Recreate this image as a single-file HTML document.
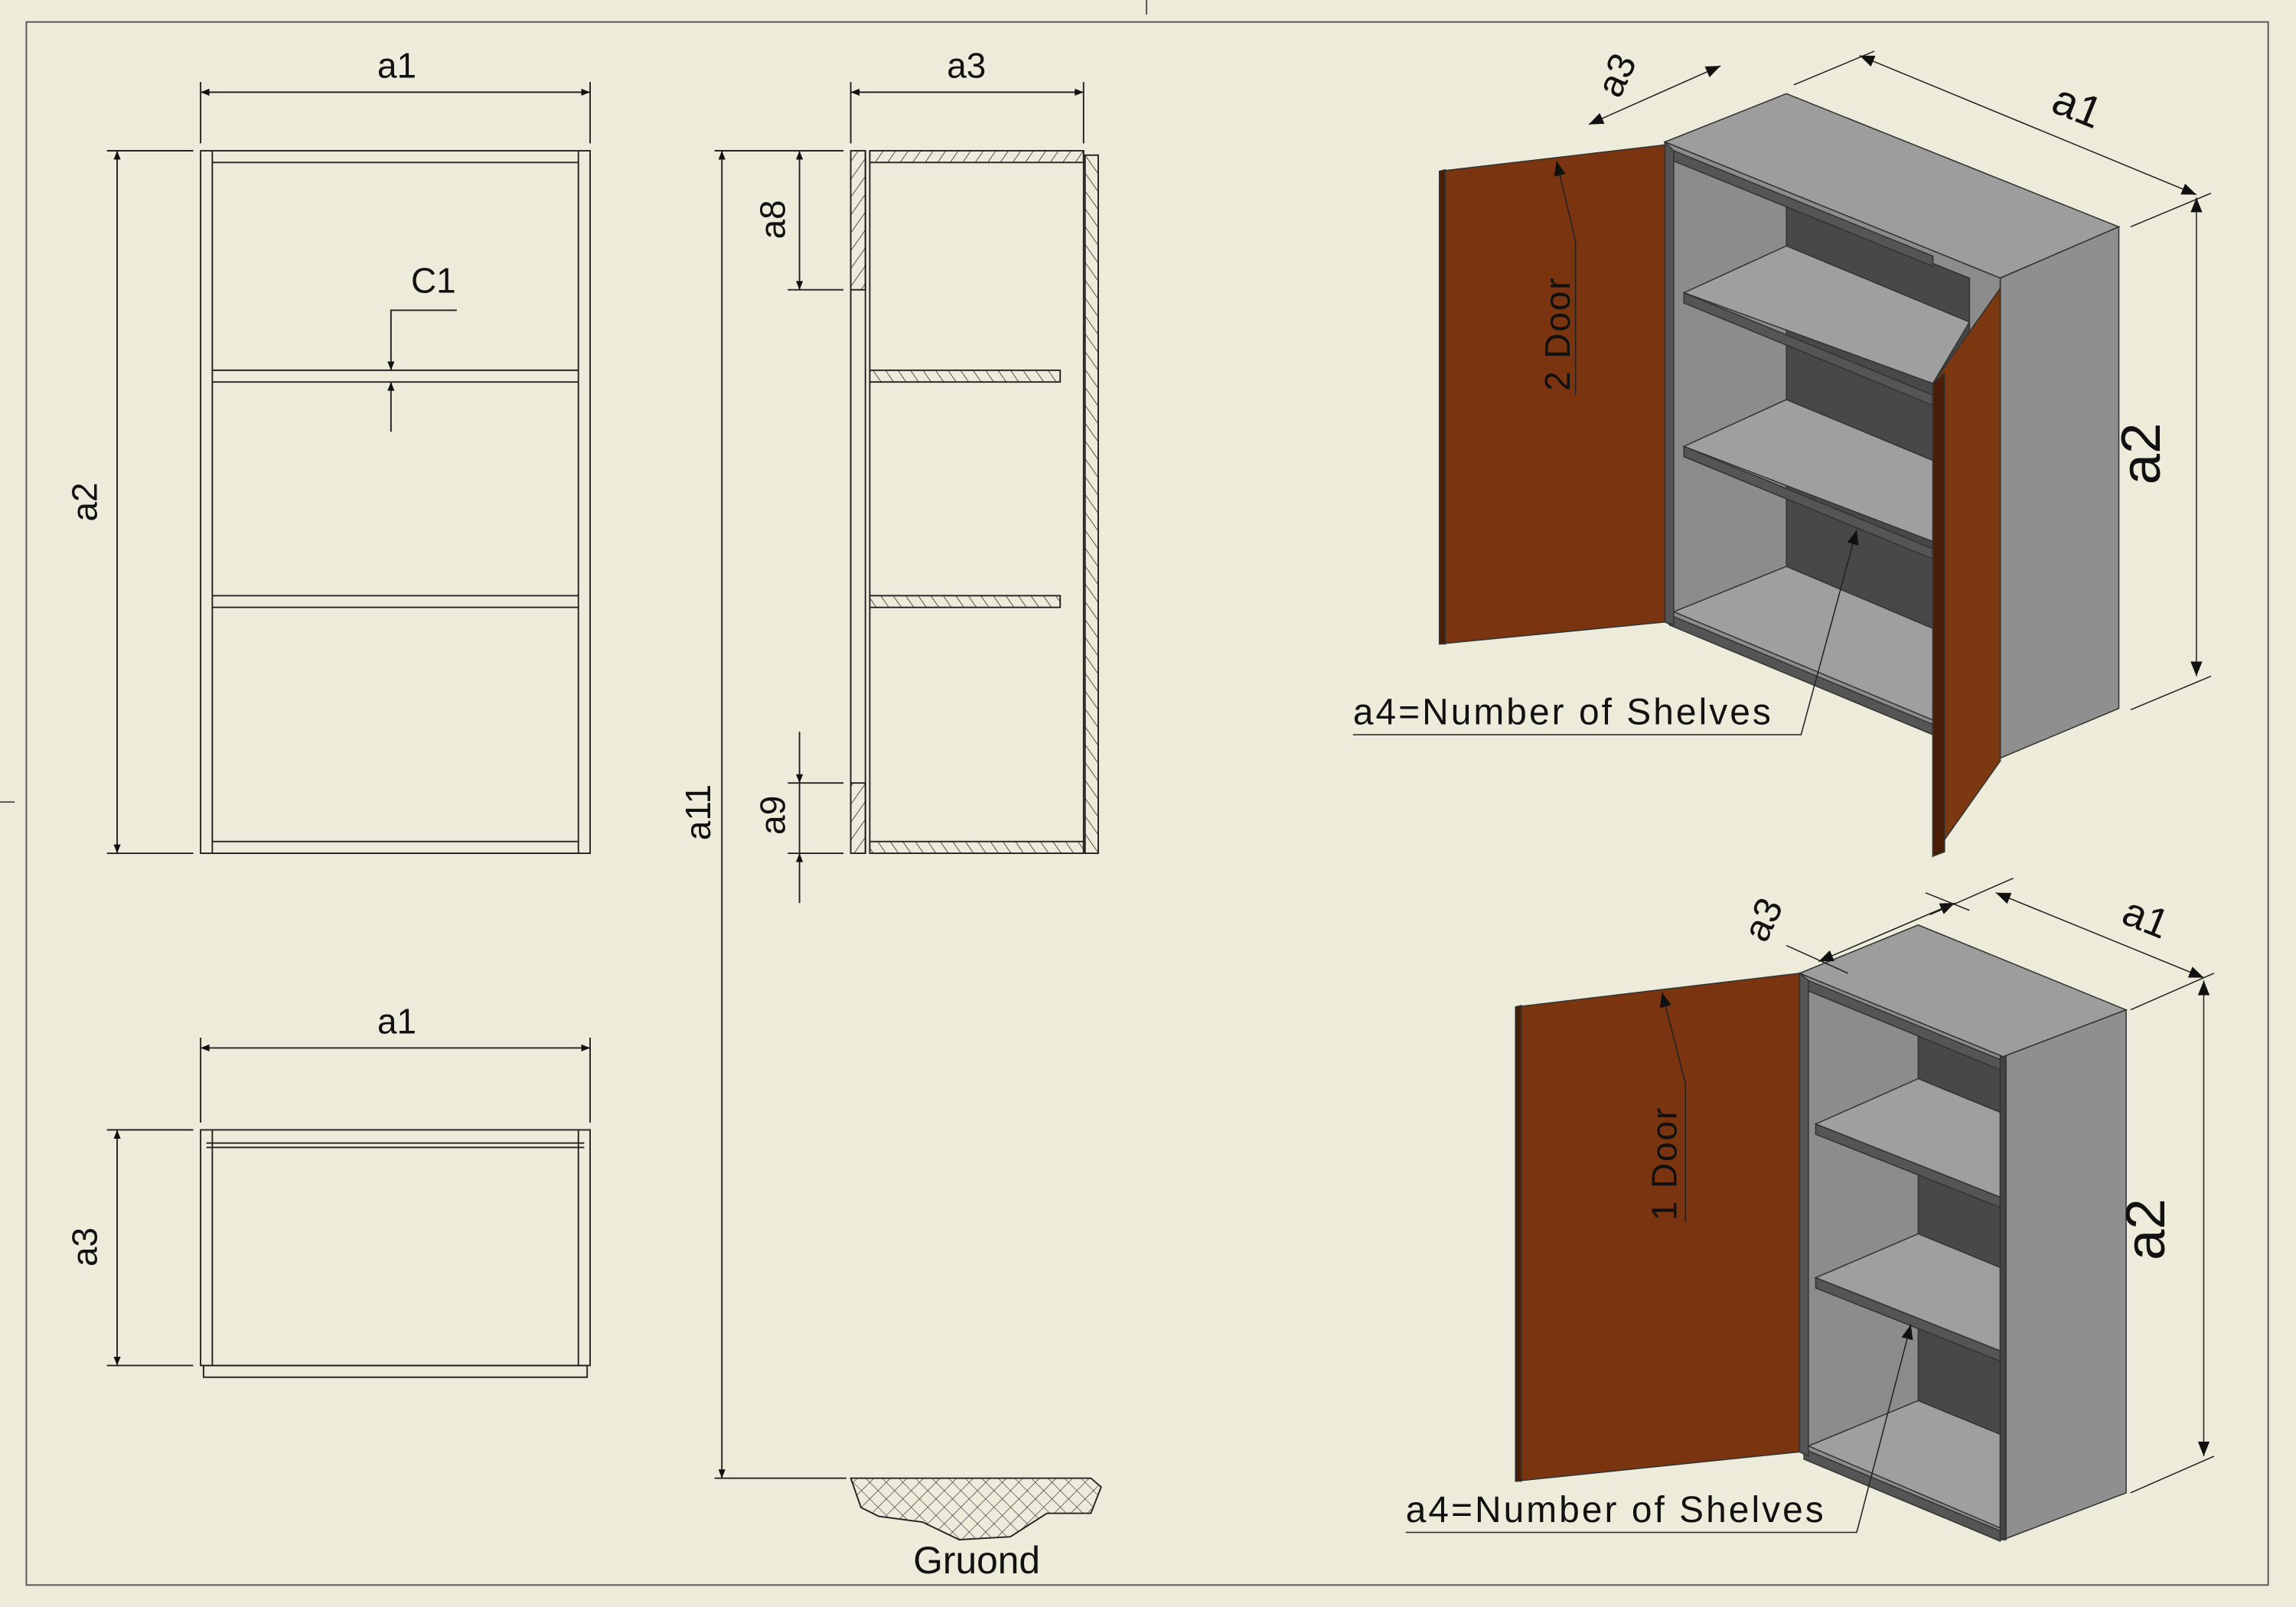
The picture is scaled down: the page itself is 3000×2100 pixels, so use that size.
<!DOCTYPE html>
<html><head><meta charset="utf-8"><style>
html,body{margin:0;padding:0;background:#EDECDA;}
svg{display:block}
text{font-family:"Liberation Sans",sans-serif;fill:#111;}
</style></head><body>
<svg width="3000" height="2100" viewBox="0 0 1568 1098" preserveAspectRatio="none" xmlns="http://www.w3.org/2000/svg">
<defs>
<marker id="ar" viewBox="0 0 10 10" refX="10" refY="5" markerWidth="16" markerHeight="6" markerUnits="userSpaceOnUse" orient="auto-start-reverse"><path d="M0,1 L10,5 L0,9 z" fill="#111"/></marker>
<marker id="ar2" viewBox="0 0 10 10" refX="10" refY="5" markerWidth="26" markerHeight="10" markerUnits="userSpaceOnUse" orient="auto-start-reverse"><path d="M0,1 L10,5 L0,9 z" fill="#111"/></marker>
<pattern id="h1" width="7" height="7" patternUnits="userSpaceOnUse" patternTransform="rotate(35)"><line x1="0" y1="0" x2="0" y2="7" stroke="#222" stroke-width="0.8"/></pattern>
<pattern id="h2" width="7" height="7" patternUnits="userSpaceOnUse" patternTransform="rotate(-35)"><line x1="0" y1="0" x2="0" y2="7" stroke="#222" stroke-width="0.8"/></pattern>
<pattern id="xh" width="8" height="8" patternUnits="userSpaceOnUse" patternTransform="rotate(45)"><path d="M0,0 V8 M0,0 H8" stroke="#333" stroke-width="0.7"/></pattern>
</defs>
<rect width="1568" height="1098" fill="#EDECDA"/>
<rect x="18" y="15" width="1531" height="1068" fill="none" stroke="#555" stroke-width="1"/>
<line x1="783" y1="0" x2="783" y2="10" stroke="#555"/>
<line x1="0" y1="548" x2="10" y2="548" stroke="#555"/>

<g stroke="#222" stroke-width="1" fill="none">
<rect x="137" y="103" width="266" height="480"/>
<line x1="145" y1="103" x2="145" y2="583"/><line x1="395" y1="103" x2="395" y2="583"/>
<line x1="145" y1="111" x2="395" y2="111"/><line x1="145" y1="575" x2="395" y2="575"/>
<line x1="145" y1="253" x2="395" y2="253"/><line x1="145" y1="261" x2="395" y2="261"/>
<line x1="145" y1="407" x2="395" y2="407"/><line x1="145" y1="415" x2="395" y2="415"/>
<line x1="137" y1="56" x2="137" y2="98"/><line x1="403" y1="56" x2="403" y2="98"/>
<line x1="137" y1="63" x2="403" y2="63" marker-start="url(#ar)" marker-end="url(#ar)"/>
<line x1="73" y1="103" x2="132" y2="103"/><line x1="73" y1="583" x2="132" y2="583"/>
<line x1="80" y1="103" x2="80" y2="583" marker-start="url(#ar)" marker-end="url(#ar)"/>
<polyline points="312,212 267,212 267,253" marker-end="url(#ar)"/>
<line x1="267" y1="295" x2="267" y2="261" marker-end="url(#ar)"/>

<rect x="137" y="772" width="266" height="161"/>
<line x1="145" y1="772" x2="145" y2="933"/><line x1="395" y1="772" x2="395" y2="933"/>
<line x1="141" y1="781" x2="399" y2="781"/><line x1="141" y1="784" x2="399" y2="784"/>
<rect x="139" y="933" width="262" height="8"/>
<line x1="137" y1="709" x2="137" y2="767"/><line x1="403" y1="709" x2="403" y2="767"/>
<line x1="137" y1="716" x2="403" y2="716" marker-start="url(#ar)" marker-end="url(#ar)"/>
<line x1="73" y1="772" x2="132" y2="772"/><line x1="73" y1="933" x2="132" y2="933"/>
<line x1="80" y1="772" x2="80" y2="933" marker-start="url(#ar)" marker-end="url(#ar)"/>

<rect x="581" y="103" width="10" height="95" fill="url(#h1)"/>
<rect x="581" y="535" width="10" height="48" fill="url(#h1)"/>
<line x1="581" y1="198" x2="581" y2="535"/>
<line x1="591" y1="103" x2="591" y2="583"/><line x1="594" y1="103" x2="594" y2="583"/>
<rect x="594" y="103" width="146" height="8" fill="url(#h1)"/>
<rect x="741" y="106" width="9" height="477" fill="url(#h2)"/>
<line x1="740" y1="103" x2="740" y2="583"/>
<rect x="594" y="253" width="130" height="8" fill="url(#h2)"/>
<rect x="594" y="407" width="130" height="8" fill="url(#h2)"/>
<rect x="594" y="575" width="146" height="8" fill="url(#h2)"/>
<line x1="581" y1="56" x2="581" y2="98"/><line x1="740" y1="56" x2="740" y2="98"/>
<line x1="581" y1="63" x2="740" y2="63" marker-start="url(#ar)" marker-end="url(#ar)"/>
<line x1="488" y1="103" x2="576" y2="103"/><line x1="538" y1="198" x2="576" y2="198"/>
<line x1="546" y1="103" x2="546" y2="198" marker-start="url(#ar)" marker-end="url(#ar)"/>
<line x1="538" y1="535" x2="576" y2="535"/><line x1="538" y1="583" x2="576" y2="583"/>
<line x1="546" y1="500" x2="546" y2="535" marker-end="url(#ar)"/>
<line x1="546" y1="617" x2="546" y2="583" marker-end="url(#ar)"/>
<line x1="546" y1="535" x2="546" y2="583"/>
<line x1="493" y1="103" x2="493" y2="1010" marker-start="url(#ar)" marker-end="url(#ar)"/>
<line x1="488" y1="1010" x2="578" y2="1010"/>
<path d="M581,1010 L745,1010 L752,1016 L745,1034 L715,1034 L690,1050 L655,1052 L630,1040 L600,1036 L588,1030 Z" fill="url(#xh)"/>
</g>
<text x="271" y="53" font-size="24" text-anchor="middle">a1</text>
<text x="66" y="343" font-size="24" text-anchor="middle" transform="rotate(-90 66 343)">a2</text>
<text x="296" y="200" font-size="24" text-anchor="middle">C1</text>
<text x="271" y="706" font-size="24" text-anchor="middle">a1</text>
<text x="66" y="852" font-size="24" text-anchor="middle" transform="rotate(-90 66 852)">a3</text>
<text x="660" y="53" font-size="24" text-anchor="middle">a3</text>
<text x="536" y="150" font-size="24" text-anchor="middle" transform="rotate(-90 536 150)">a8</text>
<text x="536" y="557" font-size="24" text-anchor="middle" transform="rotate(-90 536 557)">a9</text>
<text x="485" y="555" font-size="24" text-anchor="middle" transform="rotate(-90 485 555)">a11</text>
<text x="667" y="1075" font-size="26" text-anchor="middle">Gruond</text>

<!-- ISO 1 -->
<g stroke="#333" stroke-width="0.8">
<polygon points="1137,97 1220,64 1447,155 1366,190" fill="#9d9d9d"/>
<polygon points="1366,190 1447,155 1447,484 1366,518" fill="#8f8f8f"/>
<polygon points="1137,97 1366,190 1366,520 1137,425" fill="#8c8c8c"/>
<polygon points="1220,140 1345,190 1345,470 1220,390" fill="#484848"/>
<polygon points="1143,103 1320,175 1320,182 1143,110" fill="#555"/>
<polygon points="1150,200 1220,168 1345,220 1320,262" fill="#9f9f9f"/>
<polygon points="1150,200 1320,270 1320,277 1150,207" fill="#555"/>
<polygon points="1150,305 1220,273 1345,325 1320,370" fill="#9f9f9f"/>
<polygon points="1150,305 1320,375 1320,382 1150,312" fill="#555"/>
<polygon points="1143,418 1220,387 1345,440 1320,492" fill="#9f9f9f"/>
<polygon points="1140,420 1320,495 1320,502 1140,427" fill="#555"/>
<polygon points="1137,97 1143,103 1143,427 1137,425" fill="#555"/>
<polygon points="983,117 1137,99 1137,425 983,440" fill="#7a3510"/>
<polygon points="983,117 987,116 987,440 983,440" fill="#4a1e06"/>
<polygon points="1320,262 1366,197 1366,520 1320,585" fill="#7c3810"/>
<polygon points="1320,262 1328,255 1328,582 1320,585" fill="#4a1e06"/>
</g>
<g stroke="#222" stroke-width="0.8" fill="none">
<line x1="1085" y1="85" x2="1175" y2="45" marker-start="url(#ar2)" marker-end="url(#ar2)"/>
<line x1="1270" y1="38" x2="1500" y2="133" marker-start="url(#ar2)" marker-end="url(#ar2)"/>
<line x1="1225" y1="58" x2="1280" y2="35"/><line x1="1455" y1="155" x2="1510" y2="132"/>
<line x1="1500" y1="135" x2="1500" y2="462" marker-start="url(#ar2)" marker-end="url(#ar2)"/>
<line x1="1455" y1="485" x2="1510" y2="462"/>
<polyline points="1076,270 1076,165 1063,110" marker-end="url(#ar2)"/>
<polyline points="924,502 1230,502 1268,362" marker-end="url(#ar2)"/>
</g>
<text x="1112" y="55" font-size="26" text-anchor="middle" transform="rotate(-65 1112 55)">a3</text>
<text x="1415" y="82" font-size="30" text-anchor="middle" transform="rotate(22 1415 82)">a1</text>
<text x="1475" y="310" font-size="38" text-anchor="middle" transform="rotate(-90 1475 310)">a2</text>
<text x="1072" y="228" font-size="24" text-anchor="middle" letter-spacing="1" transform="rotate(-90 1072 228)">2 Door</text>
<text x="924" y="495" font-size="25" letter-spacing="1.6">a4=Number of Shelves</text>

<!-- ISO 2 -->
<g stroke="#333" stroke-width="0.8">
<polygon points="1229,665 1310,632 1452,690 1368,722" fill="#9d9d9d"/>
<polygon points="1368,722 1452,690 1452,1020 1368,1052" fill="#8f8f8f"/>
<polygon points="1229,665 1368,722 1368,1052 1229,992" fill="#8c8c8c"/>
<polygon points="1310,702 1366,726 1366,1030 1310,1005" fill="#484848"/>
<polygon points="1235,670 1366,724 1366,731 1235,677" fill="#555"/>
<polygon points="1240,768 1310,737 1366,760 1366,818" fill="#9f9f9f"/>
<polygon points="1240,768 1366,818 1366,825 1240,775" fill="#555"/>
<polygon points="1240,873 1310,843 1366,866 1366,923" fill="#9f9f9f"/>
<polygon points="1240,873 1366,923 1366,930 1240,880" fill="#555"/>
<polygon points="1235,988 1310,957 1366,980 1366,1044" fill="#9f9f9f"/>
<polygon points="1232,990 1366,1046 1366,1053 1232,997" fill="#555"/>
<polygon points="1229,665 1235,670 1235,995 1229,992" fill="#555"/>
<polygon points="1366,722 1370,722 1370,1052 1366,1052" fill="#444"/>
<polygon points="1035,688 1229,665 1229,992 1035,1012" fill="#7a3510"/>
<polygon points="1035,688 1039,687 1039,1012 1035,1012" fill="#4a1e06"/>
</g>
<g stroke="#222" stroke-width="0.8" fill="none">
<line x1="1242" y1="657" x2="1335" y2="617" marker-start="url(#ar2)" marker-end="url(#ar2)"/>
<line x1="1220" y1="646" x2="1262" y2="665"/><line x1="1315" y1="610" x2="1345" y2="622"/>
<line x1="1363" y1="610" x2="1505" y2="668" marker-start="url(#ar2)" marker-end="url(#ar2)"/>
<line x1="1318" y1="625" x2="1375" y2="600"/><line x1="1455" y1="690" x2="1512" y2="665"/>
<line x1="1505" y1="670" x2="1505" y2="995" marker-start="url(#ar2)" marker-end="url(#ar2)"/>
<line x1="1455" y1="1020" x2="1512" y2="995"/>
<polyline points="1151,835 1151,740 1135,678" marker-end="url(#ar2)"/>
<polyline points="960,1047 1268,1047 1305,905" marker-end="url(#ar2)"/>
</g>
<text x="1212" y="632" font-size="26" text-anchor="middle" transform="rotate(-65 1212 632)">a3</text>
<text x="1462" y="636" font-size="28" text-anchor="middle" transform="rotate(22 1462 636)">a1</text>
<text x="1478" y="840" font-size="38" text-anchor="middle" transform="rotate(-90 1478 840)">a2</text>
<text x="1145" y="795" font-size="24" text-anchor="middle" letter-spacing="1" transform="rotate(-90 1145 795)">1 Door</text>
<text x="960" y="1040" font-size="25" letter-spacing="1.6">a4=Number of Shelves</text>
</svg>
</body></html>
